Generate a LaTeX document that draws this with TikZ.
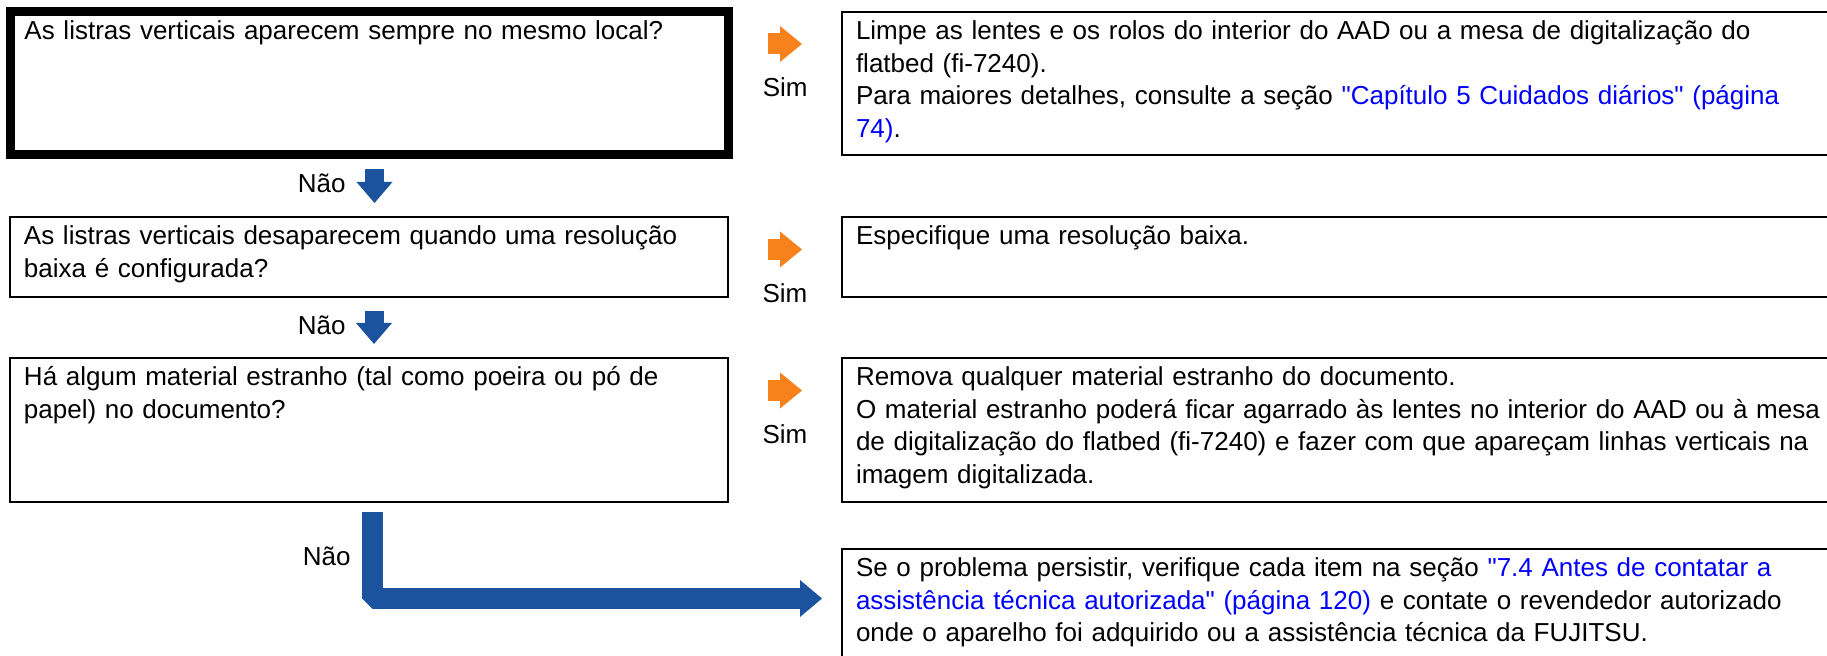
\documentclass[tikz,border=0pt]{standalone}
\usepackage{fontspec}
\setmainfont{Liberation Sans}[Ligatures=TeXOff]
\usetikzlibrary{arrows.meta,positioning}
\definecolor{FjBlue}{RGB}{27,83,158}
\definecolor{FjOrange}{RGB}{247,130,28}
\definecolor{RefBlue}{RGB}{0,0,255}
\newcommand{\linktxt}[1]{\textcolor{RefBlue}{#1}}

\begin{document}
\begin{tikzpicture}[x=0.5pt,y=-0.5pt,
  font=\fontsize{13pt}{16.25pt}\selectfont,
  qbox/.style={rectangle,draw=black,line width=1pt,anchor=north west,outer sep=0pt,inner xsep=7pt,inner ysep=4pt,text height=10pt,text width=345pt,align=left},
  abox/.style={qbox,text width=520pt},
  simarrow/.style={FjOrange,line width=10.5pt,-{Triangle[length=11pt,width=18pt,line width=0pt]},shorten <=19.75pt,shorten >=20pt},
  naoarrow/.style={FjBlue,line width=9.5pt,-{Triangle[length=10.5pt,width=18pt,line width=0pt]},shorten <=7pt,shorten >=7pt},
  fimarrow/.style={FjBlue,line width=10.5pt,line join=bevel,-{Triangle[length=11pt,width=18.5pt,line width=0pt]},shorten <=5pt,shorten >=10pt},
  lbl/.style={text=black,inner sep=0pt,anchor=base}
]
  \useasboundingbox (0,0) rectangle (1827,656);
  \clip (0,0) rectangle (1827,656);
  % perguntas
  \node[qbox,line width=4.5pt,text depth=53.75pt] (q1) at (10.5,11.5) {As listras verticais aparecem sempre no mesmo local?};
  \node[qbox,text depth=22pt] (q2) at (10,217) {As listras verticais desaparecem quando uma resolução\\baixa é configurada?};
  \node[qbox,text depth=54pt] (q3) at (10,358) {Há algum material estranho (tal como poeira ou pó de\\papel) no documento?};
  % respostas
  \node[abox,text depth=53.75pt] (a1) at (842,12) {Limpe as lentes e os rolos do interior do AAD ou a mesa de digitalização do\\flatbed (fi-7240).\\Para maiores detalhes, consulte a seção \linktxt{"Capítulo 5 Cuidados diários" (página}\\\linktxt{74)}.};
  \node[abox,text depth=22pt] (a2) at (842,217) {Especifique uma resolução baixa.};
  \node[abox,text depth=54pt] (a3) at (842,358) {Remova qualquer material estranho do documento.\\O material estranho poderá ficar agarrado às lentes no interior do AAD ou à mesa\\de digitalização do flatbed (fi-7240) e fazer com que apareçam linhas verticais na\\imagem digitalizada.};
  \node[abox,text depth=60pt] (a4) at (842,549) {Se o problema persistir, verifique cada item na seção \linktxt{"7.4 Antes de contatar a}\\\linktxt{assistência técnica autorizada" (página 120)} e contate o revendedor autorizado\\onde o aparelho foi adquirido ou a assistência técnica da FUJITSU.};
  % sim
  \draw[simarrow] ([yshift=-16.25pt]q1.north east) -- ([yshift=-16.25pt]q1.north east -| a1.west) node[lbl,midway,yshift=-26.5pt] (sim1) {Sim};
  \draw[simarrow] ([yshift=-16.25pt]q2.north east) -- ([yshift=-16.25pt]q2.north east -| a2.west) node[lbl,midway,yshift=-26.5pt] (sim2) {Sim};
  \draw[simarrow] ([yshift=-16.25pt]q3.north east) -- ([yshift=-16.25pt]q3.north east -| a3.west) node[lbl,midway,yshift=-26.5pt] (sim3) {Sim};
  % nao
  \draw[naoarrow] ([xshift=2.5pt]q1.south) -- ([xshift=2.5pt]q1.south |- q2.north);
  \draw[naoarrow] ([xshift=2.5pt]q2.south) -- ([xshift=2.5pt]q2.south |- q3.north);
  \node[lbl,anchor=base east] (nao1) at (346,193) {Não};
  \node[lbl,anchor=base east] (nao2) at (346,335) {Não};
  \draw[fimarrow] ([xshift=1.5pt]q3.south) |- ([yshift=-24.75pt]a4.north west);
  \node[lbl,anchor=base east] (nao3) at (351,566) {Não};
\end{tikzpicture}
\end{document}
